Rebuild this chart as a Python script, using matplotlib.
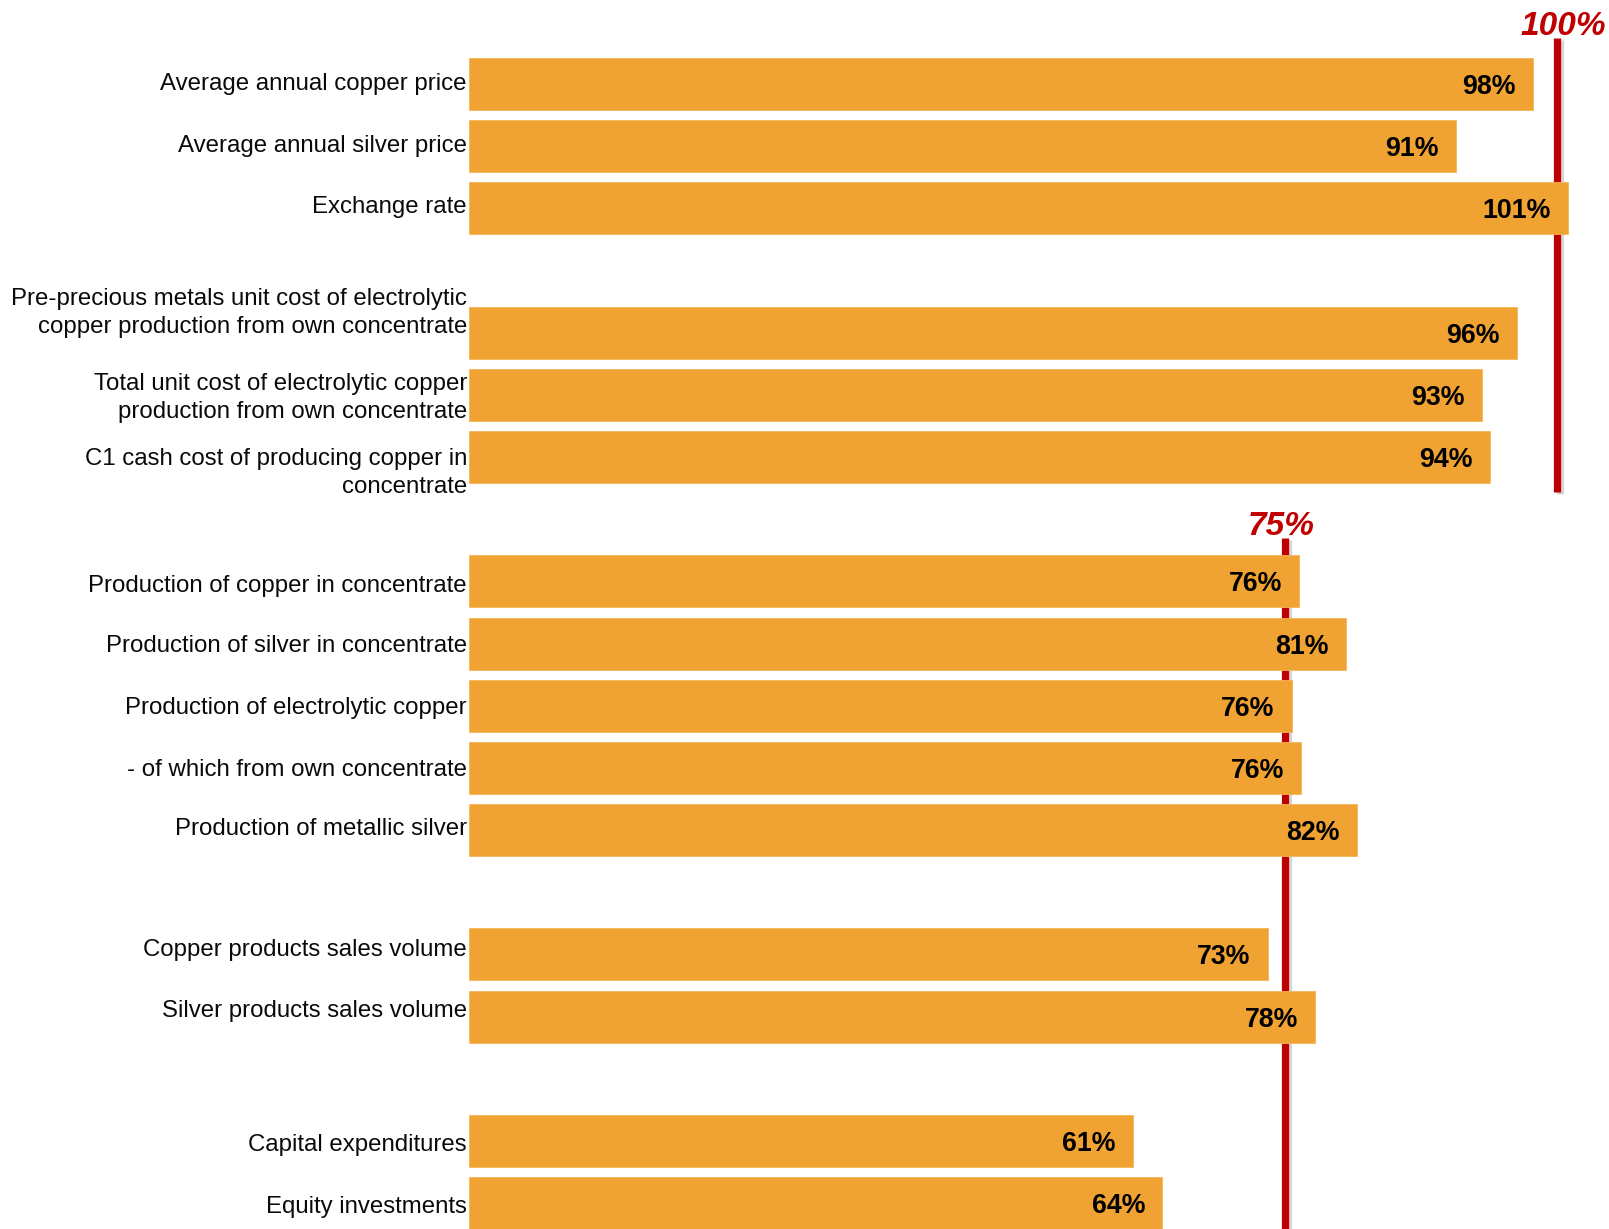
import matplotlib
matplotlib.use("Agg")
import matplotlib.pyplot as plt
import matplotlib.patheffects as pe

plt.rcParams['font.family'] = ['Liberation Sans', 'DejaVu Sans']

categories = [
    "Average annual copper price",
    "Average annual silver price",
    "Exchange rate",
    "Pre-precious metals unit cost of electrolytic\ncopper production from own concentrate",
    "Total unit cost of electrolytic copper\nproduction from own concentrate",
    "C1 cash cost of producing copper in\nconcentrate",
    "Production of copper in concentrate",
    "Production of silver in concentrate",
    "Production of electrolytic copper",
    "- of which from own concentrate",
    "Production of metallic silver",
    "Copper products sales volume",
    "Silver products sales volume",
    "Capital expenditures",
    "Equity investments",
]
values = [97.8, 90.7, 101.0, 96.3, 93.1, 93.8,
          76.3, 80.6, 75.6, 76.5, 81.6,
          73.4, 77.8,
          61.0, 63.7]
value_labels = ["98%", "91%", "101%", "96%", "93%", "94%",
                "76%", "81%", "76%", "76%", "82%",
                "73%", "78%",
                "61%", "64%"]
group_sizes = [3, 3, 5, 2, 2]
ref_values = [100, 75]
ref_labels = ["100%", "75%"]

# slot positions: one empty slot between groups
positions = []
slot = 0
for g in group_sizes:
    for _ in range(g):
        positions.append(slot)
        slot += 1
    slot += 1

# label vertical offsets (slot units) for visual fidelity
label_offsets = [0.0, 0.0, -0.02, -0.32, 0.05, 0.26, 0.08, 0.04, 0.03, 0.03, -0.02, -0.07, -0.09, 0.07, 0.06]

W, H = 1609, 1229
fig = plt.figure(figsize=(W / 100, H / 100), dpi=100)
x0_px = 469
px_per_unit = 10.88
slot_px = 62.17
first_px = 84
ax = fig.add_axes([x0_px / W, 0, 1 - x0_px / W, 1])
ax.set_xlim(0, (W - x0_px) / px_per_unit)
ax.set_ylim((H - first_px) / slot_px, -first_px / slot_px)
ax.axis('off')

bar_color = '#F0A232'
red = '#C00000'

# reference lines (behind bars)
line_spans = [
    (positions[0] - 0.74, positions[5] + 0.56),
    (positions[6] - 0.70, (H - first_px) / slot_px + 0.5),
]
shadow = [pe.SimpleLineShadow(offset=(2.5, -1.5), shadow_color='#888888', alpha=0.35), pe.Normal()]
for rv, (yt, yb) in zip(ref_values, line_spans):
    ax.plot([rv, rv], [yt, yb], color=red, lw=5.2, solid_capstyle='butt', zorder=1,
            path_effects=shadow)

ax.barh(positions, values, height=0.836, color=bar_color, edgecolor='#F5B55A', linewidth=0.6, zorder=2)

for p, v, lab in zip(positions, values, value_labels):
    ax.text(v - 17 / px_per_unit, p + 0.05, lab, ha='right', va='center',
            fontsize=19.3, fontweight='bold', color='black', zorder=3)

for p, c, off in zip(positions, categories, label_offsets):
    ax.text(-2 / px_per_unit, p + off, c, ha='right', va='center', fontsize=17.3,
            color='#0a0a0a', clip_on=False, linespacing=1.38)

# reference labels
ax.text(100.6, positions[0] - 0.93, ref_labels[0], ha='center', va='center', fontsize=24,
        fontweight='bold', fontstyle='italic', color=red)
ax.text(74.6, positions[6] - 0.88, ref_labels[1], ha='center', va='center', fontsize=24,
        fontweight='bold', fontstyle='italic', color=red)

fig.savefig('out.png', dpi=100, facecolor='white')
